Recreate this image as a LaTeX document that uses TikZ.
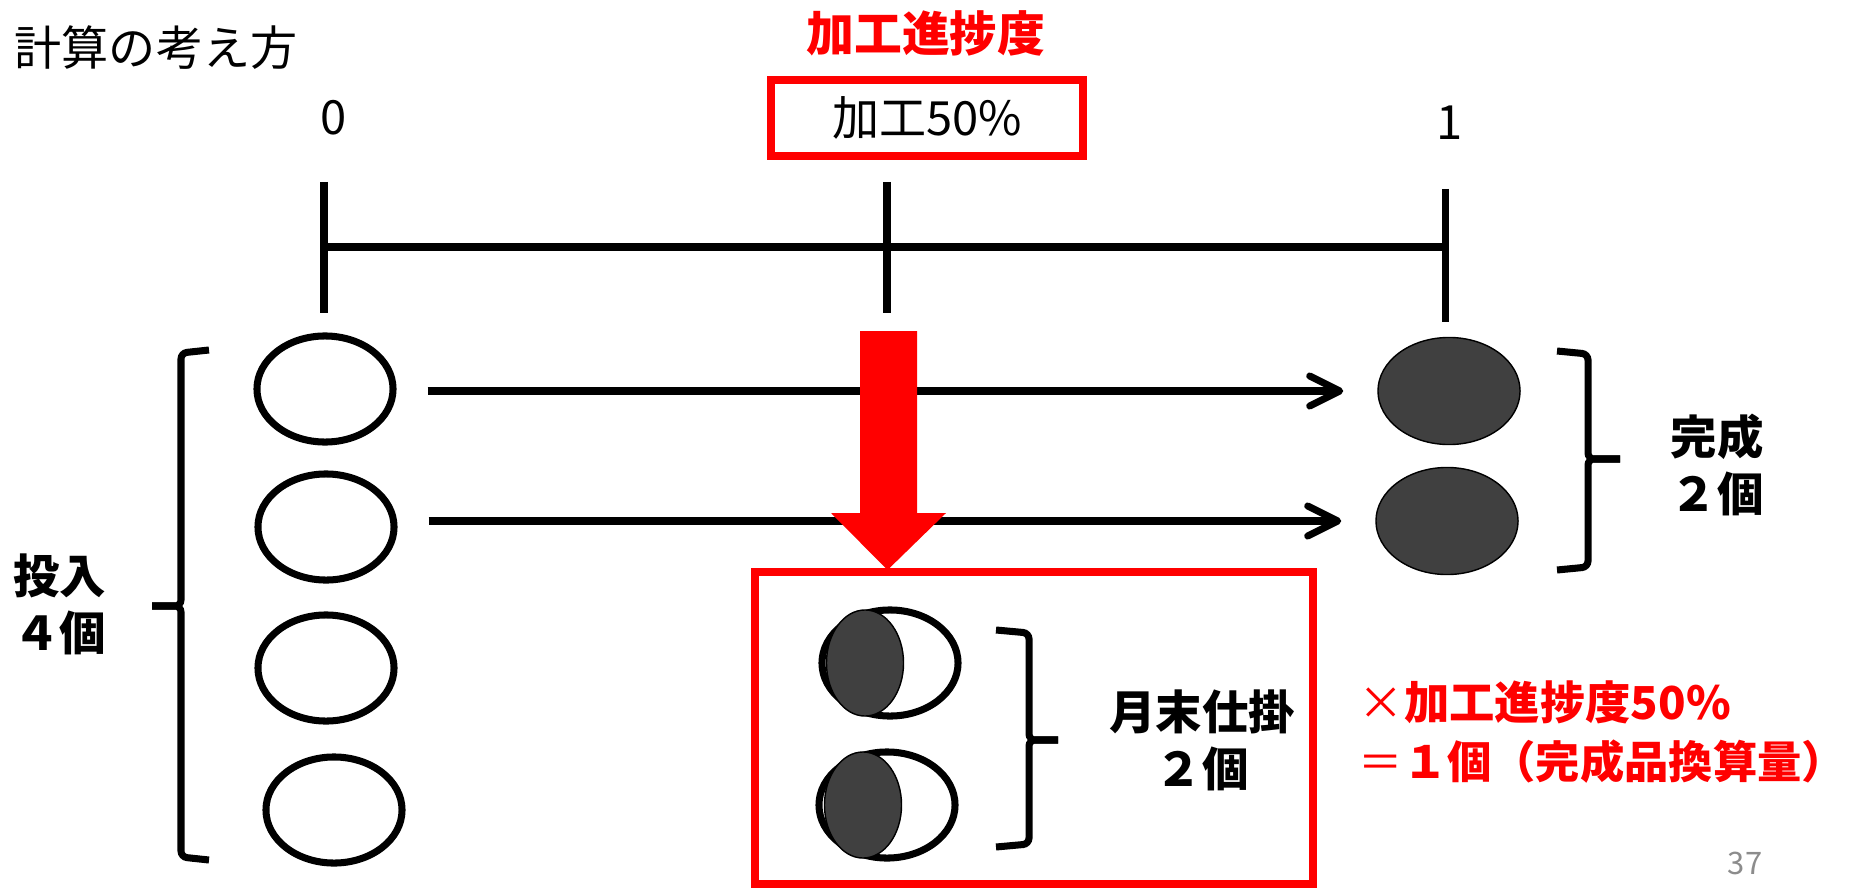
\documentclass[tikz,border=0pt]{standalone}
\usepackage{fontspec}
\setmainfont{Noto Sans CJK JP}
\usetikzlibrary{shapes.geometric,arrows.meta}
\definecolor{dk}{RGB}{64,64,64}
\definecolor{pr}{RGB}{255,0,0}
\definecolor{pg}{RGB}{140,140,140}
\begin{document}
\begin{tikzpicture}[x=0.01cm,y=-0.01cm,
  txt/.style={inner sep=0pt,font=\fontsize{13.4pt}{16.2pt}\selectfont},
  btxt/.style={inner sep=0pt,font=\fontsize{13.2pt}{16.2pt}\selectfont\bfseries},
  wcirc/.style={ellipse,draw,line width=2pt,fill=white,minimum width=1.36cm,minimum height=1.06cm,inner sep=0pt},
  dcirc/.style={ellipse,draw,line width=0.4pt,fill=dk,minimum width=1.42cm,minimum height=1.07cm,inner sep=0pt},
  hcirc/.style={ellipse,draw,line width=0.4pt,fill=dk,minimum width=0.77cm,minimum height=1.06cm,inner sep=0pt},
  flow/.style={line width=2pt,-{Straight Barb[length=3mm,width=3mm,round]},shorten <=0.31cm,shorten >=0.34cm},
  scl/.style={line width=2pt},
  brc/.style={line width=2pt,rounded corners=0.06cm},
  rbox/.style={draw=pr,line width=0.08cm}]
\fill[white] (0,0) rectangle (1852,888);
\useasboundingbox (0,0) rectangle (1852,888);

% titles
\node[txt,anchor=west] (title) at (14,48) {計算の考え方};
\node[txt,text=pr,font=\fontsize{13.6pt}{16pt}\selectfont\bfseries] (head) at (926,33) {加工進捗度};
\node[txt,rbox,minimum width=3.11cm,minimum height=0.75cm] (rate) at (927,118) {加工50\%};
\node[txt] (zero) at (334,118) {0};
\node[txt] (one) at (1450,123) {1};

% scale
\coordinate (t0a) at (324,182); \coordinate (t0b) at (324,313);
\coordinate (tma) at (887,182); \coordinate (tmb) at (887,313);
\coordinate (t1a) at (1445,189); \coordinate (t1b) at (1445,322);
\coordinate (s0) at (324,247); \coordinate (s1) at (1445,247);
\draw[scl] (t0a) -- (t0b);
\draw[scl] (tma) -- (tmb);
\draw[scl] (t1a) -- (t1b);
\draw[scl] (s0) -- (s1);

% input units
\node[wcirc] (e1) at (325,389) {};
\node[wcirc] (e2) at (326,527) {};
\node[wcirc] (e3) at (326,668) {};
\node[wcirc] (e4) at (334,810) {};

% finished units
\node[dcirc] (d1) at (1449,391) {};
\node[dcirc] (d2) at (1447,521) {};

% flows
\draw[flow] (e1.east |- d1.west) -- (d1.west);
\draw[flow] (e2.east |- d2.west) -- (d2.west);

% work in process box
\node[rbox,minimum width=5.58cm,minimum height=3.12cm,inner sep=0pt] (wbox) at (1034,728) {};
\node[wcirc] (w1) at (890,663) {};
\node[hcirc] (h1) at (865,663) {};
\node[wcirc] (w2) at (887,805) {};
\node[hcirc] (h2) at (863,805) {};

% red block arrow
\fill[pr] (860,331) -- (917,331) -- (917,513) -- (946,513) -- (887.5,570) -- (831,513) -- (860,513) -- cycle;

% braces
\draw[brc] (209,350) -- (181,353) -- (181,606) -- (152,606);
\draw[brc] (209,860) -- (181,857) -- (181,606) -- (152,606);
\draw[brc] (996,630) -- (1029,633) -- (1029,740) -- (1058,740);
\draw[brc] (996,847) -- (1029,844) -- (1029,740) -- (1058,740);
\draw[brc] (1557,351) -- (1588,354) -- (1588,459) -- (1620,459);
\draw[brc] (1557,570) -- (1588,567) -- (1588,459) -- (1620,459);

% labels
\node[btxt,align=center] (input) at (60,604) {投入\\４個};
\node[btxt,align=center] (done) at (1717,465) {完成\\２個};
\node[btxt,align=center] (wip) at (1202,740) {月末仕掛\\２個};
\node[txt,anchor=west,align=left,text=pr,font=\fontsize{12.9pt}{16.6pt}\selectfont\bfseries] (calc) at (1358,732) {{\mdseries ×}加工進捗度50\%\\{\fontsize{12.6pt}{16.6pt}\selectfont{\mdseries ＝}１個（完成品換算量）}};
\node[inner sep=0pt,text=pg,font=\fontsize{8.8pt}{10pt}\selectfont] (page) at (1745,863) {37};
\end{tikzpicture}
\end{document}
